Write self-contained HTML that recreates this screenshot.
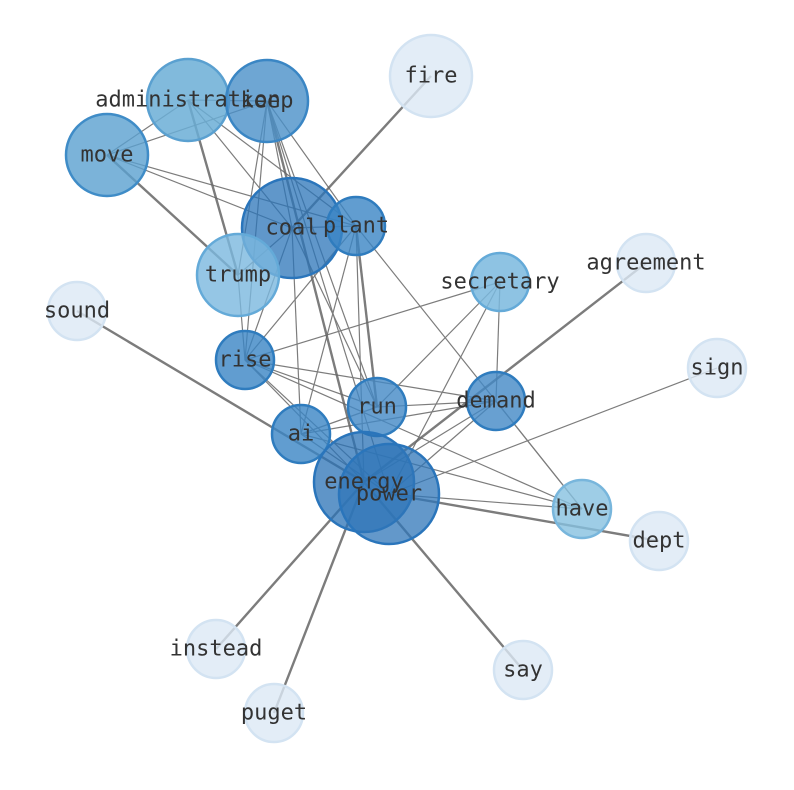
<!DOCTYPE html>
<html><head><meta charset="utf-8"><style>
html,body{margin:0;padding:0;background:#fff}
svg{display:block}
text{font-family:"DejaVu Sans Mono","Liberation Mono",monospace;font-size:22px;fill:#333;text-anchor:middle;dominant-baseline:central}
</style></head><body>
<svg width="794" height="790" viewBox="0 0 794 790">
<g stroke="#666" stroke-width="1.2" opacity="0.85">
<line x1="188" y1="100" x2="107" y2="155"/>
<line x1="188" y1="100" x2="267" y2="101"/>
<line x1="188" y1="100" x2="292" y2="228"/>
<line x1="188" y1="100" x2="356" y2="226"/>
<line x1="267" y1="101" x2="107" y2="155"/>
<line x1="267" y1="101" x2="292" y2="228"/>
<line x1="267" y1="101" x2="356" y2="226"/>
<line x1="267" y1="101" x2="238" y2="275"/>
<line x1="267" y1="101" x2="245" y2="360"/>
<line x1="267" y1="101" x2="377" y2="407"/>
<line x1="267" y1="101" x2="389" y2="494"/>
<line x1="107" y1="155" x2="292" y2="228"/>
<line x1="107" y1="155" x2="356" y2="226"/>
<line x1="292" y1="228" x2="245" y2="360"/>
<line x1="292" y1="228" x2="301" y2="434"/>
<line x1="292" y1="228" x2="377" y2="407"/>
<line x1="292" y1="228" x2="356" y2="226"/>
<line x1="292" y1="228" x2="238" y2="275"/>
<line x1="356" y1="226" x2="245" y2="360"/>
<line x1="356" y1="226" x2="301" y2="434"/>
<line x1="356" y1="226" x2="582" y2="509"/>
<line x1="356" y1="226" x2="364" y2="482"/>
<line x1="500" y1="282" x2="245" y2="360"/>
<line x1="500" y1="282" x2="377" y2="407"/>
<line x1="500" y1="282" x2="496" y2="401"/>
<line x1="500" y1="282" x2="389" y2="494"/>
<line x1="245" y1="360" x2="377" y2="407"/>
<line x1="245" y1="360" x2="496" y2="401"/>
<line x1="245" y1="360" x2="364" y2="482"/>
<line x1="245" y1="360" x2="389" y2="494"/>
<line x1="245" y1="360" x2="582" y2="509"/>
<line x1="238" y1="275" x2="245" y2="360"/>
<line x1="377" y1="407" x2="496" y2="401"/>
<line x1="377" y1="407" x2="301" y2="434"/>
<line x1="301" y1="434" x2="496" y2="401"/>
<line x1="301" y1="434" x2="582" y2="509"/>
<line x1="301" y1="434" x2="389" y2="494"/>
<line x1="496" y1="401" x2="364" y2="482"/>
<line x1="496" y1="401" x2="389" y2="494"/>
<line x1="496" y1="401" x2="582" y2="509"/>
<line x1="717" y1="368" x2="389" y2="494"/>
<line x1="389" y1="494" x2="582" y2="509"/>
</g>
<g stroke="#666" stroke-width="2.4" opacity="0.85">
<line x1="431" y1="76" x2="292" y2="228"/>
<line x1="188" y1="100" x2="238" y2="275"/>
<line x1="107" y1="155" x2="238" y2="275"/>
<line x1="267" y1="101" x2="364" y2="482"/>
<line x1="356" y1="226" x2="377" y2="407"/>
<line x1="77" y1="311" x2="364" y2="482"/>
<line x1="646" y1="263" x2="364" y2="482"/>
<line x1="659" y1="541" x2="389" y2="494"/>
<line x1="216" y1="649" x2="364" y2="482"/>
<line x1="274" y1="713" x2="364" y2="482"/>
<line x1="523" y1="670" x2="364" y2="482"/>
</g>
<g stroke-width="2.5">
<circle cx="431" cy="76" r="41" fill="#dce8f5" stroke="#d3e3f2" fill-opacity="0.8"/>
<circle cx="188" cy="100" r="41" fill="#6baed6" stroke="#5aa0d0" fill-opacity="0.85"/>
<circle cx="267" cy="101" r="41" fill="#4a90c8" stroke="#3a86c4" fill-opacity="0.8"/>
<circle cx="107" cy="155" r="41" fill="#5aa0d0" stroke="#3f8cc7" fill-opacity="0.8"/>
<circle cx="292" cy="228" r="50" fill="#2b74b8" stroke="#2a75bb" fill-opacity="0.75"/>
<circle cx="356" cy="226" r="29" fill="#3a84c4" stroke="#2f7cbe" fill-opacity="0.8"/>
<circle cx="238" cy="275" r="41" fill="#7ab8de" stroke="#64aad8" fill-opacity="0.8"/>
<circle cx="646" cy="263" r="29" fill="#dce8f5" stroke="#d3e3f2" fill-opacity="0.8"/>
<circle cx="500" cy="282" r="29" fill="#7ab8de" stroke="#64aad8" fill-opacity="0.85"/>
<circle cx="77" cy="311" r="29" fill="#dce8f5" stroke="#d3e3f2" fill-opacity="0.8"/>
<circle cx="717" cy="368" r="29" fill="#dce8f5" stroke="#d3e3f2" fill-opacity="0.8"/>
<circle cx="245" cy="360" r="29" fill="#3a84c4" stroke="#2f7cbe" fill-opacity="0.8"/>
<circle cx="377" cy="407" r="29" fill="#4288c6" stroke="#2f7cbe" fill-opacity="0.8"/>
<circle cx="496" cy="401" r="29" fill="#4288c6" stroke="#2f7cbe" fill-opacity="0.8"/>
<circle cx="301" cy="434" r="29" fill="#3a84c4" stroke="#2f7cbe" fill-opacity="0.8"/>
<circle cx="364" cy="482" r="50" fill="#2a72b6" stroke="#2a75bb" fill-opacity="0.75"/>
<circle cx="389" cy="494" r="50" fill="#2f76b8" stroke="#2a75bb" fill-opacity="0.75"/>
<circle cx="582" cy="509" r="29" fill="#86c0e0" stroke="#78b6dc" fill-opacity="0.8"/>
<circle cx="659" cy="541" r="29" fill="#dce8f5" stroke="#d3e3f2" fill-opacity="0.8"/>
<circle cx="216" cy="649" r="29" fill="#dce8f5" stroke="#d3e3f2" fill-opacity="0.8"/>
<circle cx="523" cy="670" r="29" fill="#dce8f5" stroke="#d3e3f2" fill-opacity="0.8"/>
<circle cx="274" cy="713" r="29" fill="#dce8f5" stroke="#d3e3f2" fill-opacity="0.8"/>
</g>
<g>
<text x="431" y="76">fire</text>
<text x="188" y="100">administration</text>
<text x="267" y="101">keep</text>
<text x="107" y="155">move</text>
<text x="292" y="228">coal</text>
<text x="356" y="226">plant</text>
<text x="238" y="275">trump</text>
<text x="646" y="263">agreement</text>
<text x="500" y="282">secretary</text>
<text x="77" y="311">sound</text>
<text x="717" y="368">sign</text>
<text x="245" y="360">rise</text>
<text x="377" y="407">run</text>
<text x="496" y="401">demand</text>
<text x="301" y="434">ai</text>
<text x="364" y="482">energy</text>
<text x="389" y="494">power</text>
<text x="582" y="509">have</text>
<text x="659" y="541">dept</text>
<text x="216" y="649">instead</text>
<text x="523" y="670">say</text>
<text x="274" y="713">puget</text>
</g>
</svg>
</body></html>
